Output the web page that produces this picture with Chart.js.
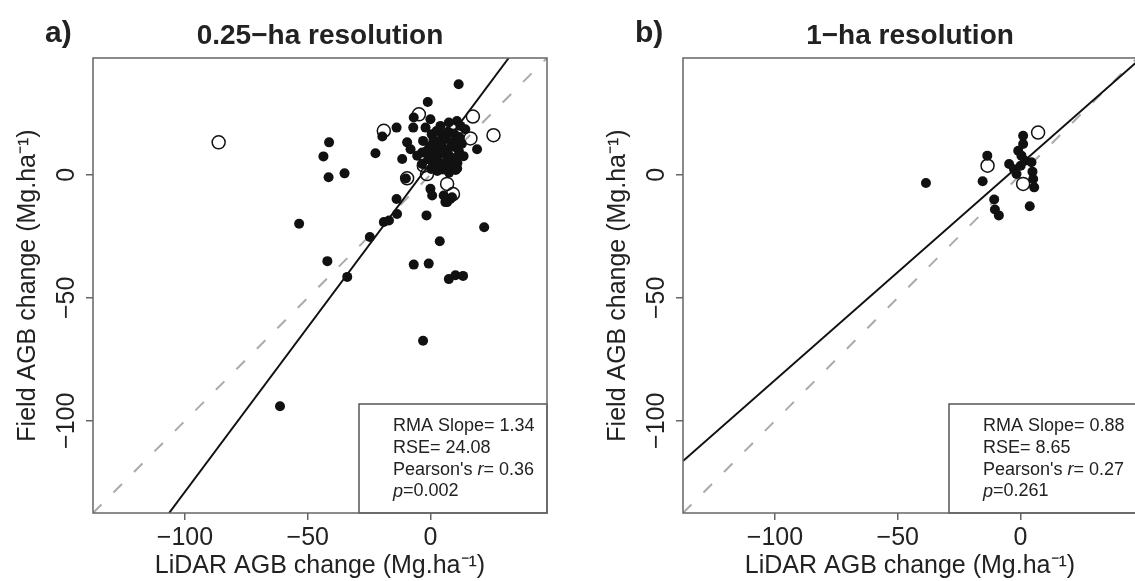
<!DOCTYPE html>
<html>
<head>
<meta charset="utf-8">
<script src="https://cdn.jsdelivr.net/npm/chart.js@4.4.1/dist/chart.umd.min.js"></script>
<style>
  html, body { margin: 0; padding: 0; background: #fff; overflow: hidden; }
  .panel { position: absolute; top: 0; width: 590px; height: 581px; }
</style>
</head>
<body>
<div class="panel" style="left:0"><canvas id="chartA" width="590" height="581"></canvas></div>
<div class="panel" style="left:590px"><canvas id="chartB" width="590" height="581"></canvas></div>
<script>
// axis limits and ticks (same for both panels, both axes)
const axisMin = -137.5;
const axisMax = 47.5;
const tickValues = [-100, -50, 0];

// panel a) 0.25-ha : [LiDAR change, field change]
const filledA = [
  [11.5, 36.8], [-1.1, 29.6], [-6.8, 23.3], [0, 22.6], [-13.8, 19.2], [-19.6, 15.6], [-7, 19.2],
  [19, 10.4], [-41.3, 13.2], [-43.6, 7.5], [-22.4, 8.8], [-11.5, 6.4], [-41.5, -1], [-35, 0.6],
  [0, -5.7], [0.7, -8.4], [6.1, -11.1], [8.1, -9.8], [-13.8, -9.8], [-13.6, -15.9], [-19, -19.2],
  [-16.9, -18.6], [-1.6, -16.5], [21.9, -21.3], [-53.5, -19.9], [-24.7, -25.3], [3.8, -27],
  [-42, -35.1], [-6.8, -36.5], [-0.7, -36.1], [7.5, -42.4], [10.2, -40.8], [13.3, -41.1],
  [-33.9, -41.5], [-3, -67.5], [-61.3, -94.1],
  [-2, 19.2], [4.1, 19.9], [7.5, 21.3], [10.8, 21.9], [12.2, 19.9], [-9.5, 13.2], [-8.1, 10.4],
  [-5.4, 7.8], [-3.4, 4.4], [-10, -1.5], [5.4, -8.4], [8.8, -9.1], [6.8, -11.1], [-3.4, 9.1],
  [11.9, 8.4], [8.1, 2.4], [10.3, 2],
  [0.5, 16.5], [2.5, 17.8], [4.8, 16.2], [7.2, 17.5], [9.6, 16.8], [11.8, 15.4],
  [1.2, 14.2], [3.6, 13.5], [6.0, 14.8], [8.4, 13.2], [10.5, 14.1], [12.8, 12.6],
  [-0.4, 11.6], [2.2, 10.8], [4.5, 11.9], [7.0, 10.3], [9.3, 11.4], [11.6, 9.7],
  [0.8, 8.6], [3.1, 7.9], [5.6, 8.8], [8.0, 7.4], [10.4, 6.8],
  [1.9, 5.2], [4.2, 4.6], [6.5, 5.5], [9.1, 3.9],
  [0.3, 2.4], [2.8, 1.6], [5.1, 2.2], [7.6, 0.9], [10.9, 2.6],
  [-1.8, 9.5], [-3.0, 13.8], [-0.9, 6.3], [13.5, 7.6], [14.2, 18.5], [11.0, 4.8]
];
const openA = [
  [-4.7, 24.6], [17.3, 23.7], [-19, 17.9], [25.7, 16.1], [16.3, 14.8], [-86.3, 13.2],
  [-9.5, -1.4], [-2.7, 3.7], [-1.4, 0.3], [6.8, -3.7], [9.2, -7.8]
];
const rmaLineA = [[-106.5, -137.5], [31.9, 47.5]];
const statsA = [
  [['RMA Slope= 1.34', false]],
  [['RSE= 24.08', false]],
  [["Pearson's ", false], ['r', true], ['= 0.36', false]],
  [['p', true], ['=0.002', false]]
];

// panel b) 1-ha
const filledB = [
  [-38.5, -3.3], [-13.5, 7.8], [-15.4, -2.6], [-10.7, -10], [-10.4, -14.1], [-8.8, -16.5],
  [-4.6, 4.4], [-2.6, 2.3], [-1.6, 0.3], [1.1, 15.9], [1.1, 12.5], [0.4, 7.8], [1.8, 5.7],
  [0.1, 3.7], [4.5, 5.1], [4.9, 1.3], [5.2, -1.7], [5.6, -5.1], [3.8, -12.8], [-0.9, 9.8]
];
const openB = [[-13.4, 3.7], [1.1, -3.7], [7.2, 17.2]];
const rmaLineB = [[-137.5, -116.4], [47.5, 46]];
const statsB = [
  [['RMA Slope= 0.88', false]],
  [['RSE= 8.65', false]],
  [["Pearson's ", false], ['r', true], ['= 0.27', false]],
  [['p', true], ['=0.261', false]]
];

const oneToOne = [[axisMin, axisMin], [axisMax, axisMax]];

const FONT = "'Liberation Sans', Arial, Helvetica, sans-serif";
Chart.defaults.font.family = FONT;
Chart.defaults.color = '#222';

let toXY = function (arr) {
  return arr.map(p => ({x: p[0], y: p[1]}));
};
let minus = function (v) {
  return String(v).replace('-', '\u2212');
};

// frame, legend box, rotated y tick labels, panel letter
const panelDecor = {
  id: 'panelDecor',
  afterDatasetsDraw(chart, args, o) {
    const ctx = chart.ctx;
    const a = chart.chartArea;
    ctx.save();
    const bx = a.right - 188, by = a.bottom - 109;
    ctx.fillStyle = '#fff';
    ctx.fillRect(bx, by, a.right - bx, a.bottom - by);
    ctx.strokeStyle = '#555';
    ctx.lineWidth = 1.5;
    ctx.strokeRect(bx, by, a.right - bx, a.bottom - by);

    ctx.fillStyle = '#222';
    ctx.textBaseline = 'middle';
    ctx.textAlign = 'left';
    o.stats.forEach(function (line, i) {
      let x = bx + 34;
      const y = by + 22.4 + i * 21.7;
      line.forEach(function (run) {
        ctx.font = (run[1] ? 'italic ' : '') + '18px ' + FONT;
        ctx.fillText(run[0], x, y);
        x += ctx.measureText(run[0]).width;
      });
    });

    ctx.strokeStyle = '#666';
    ctx.lineWidth = 1.5;
    ctx.strokeRect(a.left, a.top, a.width, a.height);
    ctx.restore();
  },
  afterDraw(chart, args, o) {
    const ctx = chart.ctx;
    const a = chart.chartArea;
    const ys = chart.scales.y;
    ctx.save();
    ctx.fillStyle = '#222';
    ctx.font = '25px ' + FONT;
    ctx.textAlign = 'center';
    ctx.textBaseline = 'middle';
    ys.ticks.forEach(function (t) {
      const y = ys.getPixelForValue(t.value);
      ctx.save();
      ctx.translate(a.left - 26, y);
      ctx.rotate(-Math.PI / 2);
      ctx.fillText(minus(t.value), 0, 0);
      ctx.restore();
    });
    ctx.font = 'bold 30px ' + FONT;
    ctx.textAlign = 'left';
    ctx.textBaseline = 'alphabetic';
    ctx.fillText(o.letter, 45, 42);
    ctx.restore();
  }
};

let makeChart = function (id, title, letter, filled, open, rma, stats) {
  const setTicks = function (scale) {
    scale.ticks = tickValues.map(v => ({value: v}));
  };
  const gridOpts = {
    drawOnChartArea: false,
    drawTicks: true,
    tickLength: 7,
    color: '#666',
    lineWidth: 1.5
  };
  return new Chart(document.getElementById(id), {
    type: 'scatter',
    data: {
      datasets: [
        {
          label: 'open',
          data: toXY(open),
          pointStyle: 'circle',
          pointRadius: 6.5,
          pointBorderWidth: 1.5,
          borderColor: '#111',
          backgroundColor: 'rgba(0,0,0,0)',
          order: 0
        },
        {
          label: 'filled',
          data: toXY(filled),
          pointRadius: 5,
          pointBorderWidth: 0,
          backgroundColor: '#111',
          borderColor: '#111',
          order: 1
        },
        {
          label: 'RMA',
          type: 'line',
          data: toXY(rma),
          borderColor: '#111',
          borderWidth: 2,
          pointRadius: 0,
          fill: false,
          order: 2
        },
        {
          label: '1:1',
          type: 'line',
          data: toXY(oneToOne),
          borderColor: '#aaa',
          borderWidth: 2,
          borderDash: [12, 17],
          pointRadius: 0,
          fill: false,
          order: 3
        }
      ]
    },
    options: {
      responsive: false,
      animation: false,
      devicePixelRatio: 1,
      layout: { padding: { top: 0, right: 43, bottom: 0, left: 0 } },
      plugins: {
        legend: { display: false },
        tooltip: { enabled: false },
        title: {
          display: true,
          text: title,
          fullSize: false,
          color: '#222',
          font: { size: 28, weight: 'bold' },
          padding: { top: 19, bottom: 5.4 }
        },
        panelDecor: { letter: letter, stats: stats }
      },
      scales: {
        x: {
          type: 'linear',
          min: axisMin,
          max: axisMax,
          afterBuildTicks: setTicks,
          afterFit: function (s) { s.height = 68; },
          border: { display: false },
          grid: gridOpts,
          ticks: {
            font: { size: 25 },
            color: '#222',
            padding: 3,
            maxRotation: 0,
            callback: v => minus(v)
          },
          title: {
            display: true,
            text: 'LiDAR AGB change (Mg.ha\u207B\u00B9)',
            font: { size: 25 },
            color: '#222',
            padding: { top: 0, bottom: 0 }
          }
        },
        y: {
          type: 'linear',
          min: axisMin,
          max: axisMax,
          afterBuildTicks: setTicks,
          afterFit: function (s) { s.width = 93; },
          border: { display: false },
          grid: gridOpts,
          ticks: { display: false },
          title: {
            display: true,
            text: 'Field AGB change (Mg.ha\u207B\u00B9)',
            font: { size: 25 },
            color: '#222',
            padding: { top: 13.6, bottom: 0 }
          }
        }
      }
    },
    plugins: [panelDecor]
  });
};

makeChart('chartA', '0.25\u2212ha resolution', 'a)', filledA, openA, rmaLineA, statsA);
makeChart('chartB', '1\u2212ha resolution', 'b)', filledB, openB, rmaLineB, statsB);
</script>
</body>
</html>
